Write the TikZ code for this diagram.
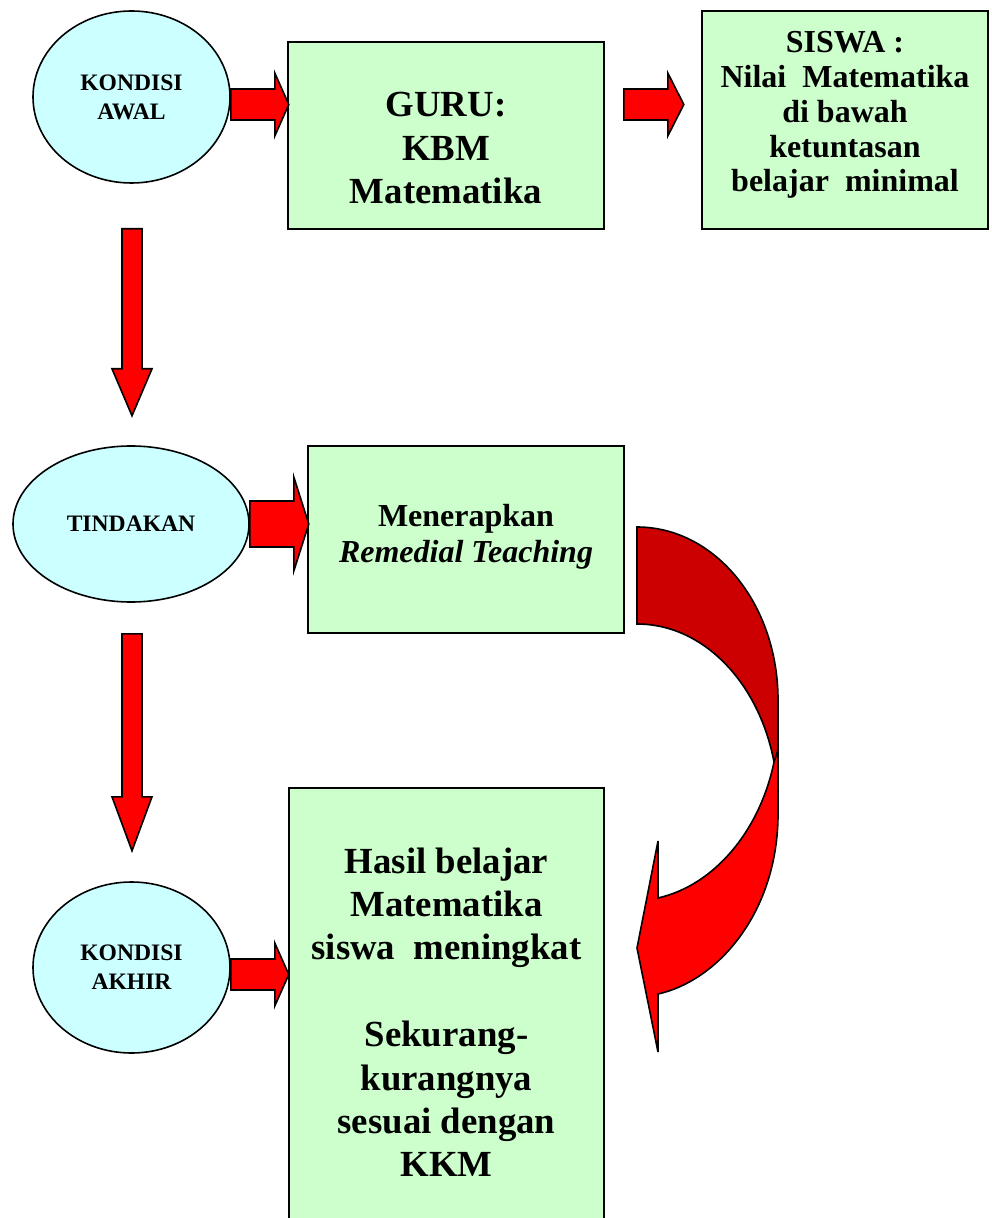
\documentclass[tikz,border=0pt]{standalone}
\usepackage{fontspec}
\setmainfont{Liberation Serif}
\usepackage{tikz}
\usetikzlibrary{positioning,shapes.geometric,calc}
\definecolor{ovalfill}{HTML}{CCFFFF}
\definecolor{boxfill}{HTML}{CCFFCC}
\definecolor{arrowred}{HTML}{FF0000}
\definecolor{darkred}{HTML}{CC0000}
\newcommand{\fatarrow}[7]{%
  \begin{scope}[shift={#2},rotate=#3]
    \draw[redarrow] (0,-#5) -- ({#4-#7},-#5) -- ({#4-#7},-#6) -- (#4,0)
      -- ({#4-#7},#6) -- ({#4-#7},#5) -- (0,#5) -- cycle;
    \coordinate (#1) at (#4,0);
  \end{scope}}

\begin{document}
\begin{tikzpicture}[
  x=0.5pt,y=-0.5pt,
  oval/.style={ellipse,draw=black,line width=0.8pt,fill=ovalfill,inner sep=0pt,align=center,
    font=\bfseries\fontsize{11.8}{14.5}\selectfont},
  box/.style={draw=black,line width=0.8pt,fill=boxfill,inner sep=0pt},
  boxtext/.style={inner sep=0pt,align=center},
  bigtext/.style={font=\bfseries\fontsize{18.4}{21.7}\selectfont},
  midtext/.style={font=\bfseries\fontsize{16}{17.4}\selectfont},
  redarrow/.style={draw=black,line width=0.8pt,fill=arrowred,line join=miter}
]
\useasboundingbox (0,0) rectangle (991,1218);
\clip (0,0) rectangle (991,1218);

\node[oval,minimum width=98.5pt,minimum height=86pt] (awal) at (131.5,97) {KONDISI\\AWAL};
\node[box,minimum width=158pt,minimum height=93.5pt] (guru) at (446,135.5) {};
\node[box,minimum width=143pt,minimum height=109pt] (siswa) at (845,120) {};
\node[oval,minimum width=118pt,minimum height=78pt] (tindakan) at (131,524) {TINDAKAN};
\node[box,minimum width=158pt,minimum height=93.5pt] (terapkan) at (466,539.5) {};
\node[oval,minimum width=98.5pt,minimum height=85.5pt] (akhir) at (131.5,967.5) {KONDISI\\AKHIR};
\node[box,minimum width=157.5pt,minimum height=224pt] (hasil) at (446.5,1012) {};

\node[boxtext,bigtext,below=25.5pt of guru.north] (gurutext) {GURU:\\KBM\\Matematika};
\node[boxtext,midtext,below=10.5pt of siswa.north] (siswatext)
  {SISWA :\\Nilai~ Matematika\\di bawah\\ketuntasan\\belajar~ minimal};
\node[boxtext,font=\bfseries\fontsize{16}{18}\selectfont,below=29.5pt of terapkan.north] (terapkantext)
  {Menerapkan\\\textit{Remedial Teaching}};
\node[boxtext,bigtext,below=30pt of hasil.north] (hasiltext)
  {Hasil belajar\\Matematika\\siswa~ meningkat\\[21.7pt]Sekurang-\\kurangnya\\sesuai dengan\\KKM};

\fatarrow{a1}{($(awal.east)+(0,7.5)$)}{0}{58}{15.5}{31.5}{14}
\fatarrow{a2}{($(guru.east)+(19,-31)$)}{0}{60}{15.5}{31.5}{16}
\fatarrow{d1}{($(awal.south)+(0.5,45)$)}{-90}{187}{10}{20}{47}
\fatarrow{a3}{(tindakan.east)}{0}{59}{23}{47}{15}
\fatarrow{d2}{($(tindakan.south)+(1,31)$)}{-90}{217}{10}{20}{54}
\fatarrow{a4}{($(akhir.east)+(0,7)$)}{0}{58}{15.5}{31.5}{14}

\draw[redarrow,fill=darkred] (637,527) .. controls (715,527) and (778,604) .. (778,700)
  -- (778,805) .. controls (778,705) and (715,624) .. (637,624) -- cycle;
\draw[redarrow] (778,750) -- (778,814) .. controls (778,910) and (720,980) .. (658,994)
  -- (658,1052) -- (637,948) -- (658,841) -- (658,898)
  .. controls (715,885) and (760,830) .. (774,762) -- cycle;

\end{tikzpicture}
\end{document}
